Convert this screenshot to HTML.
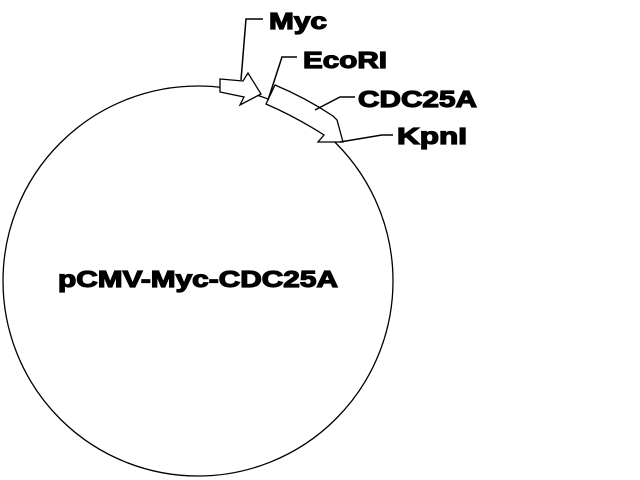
<!DOCTYPE html>
<html><head><style>html,body{margin:0;padding:0;background:#fff;}svg{display:block}</style></head>
<body>
<svg width="640" height="480" viewBox="0 0 640 480" xmlns="http://www.w3.org/2000/svg" font-family="Liberation Sans, Arial, sans-serif" font-weight="bold" font-size="23">
<rect width="640" height="480" fill="#fff"/>
<circle cx="198" cy="281" r="195" fill="none" stroke="#000" stroke-width="1.3"/>
<polygon points="220,79 243,81 248,73 261,94 240,105 244,97 220,92" fill="#fff" stroke="#000" stroke-width="1.3"/>
<path d="M275,85 Q306,98 333,116 L337,120 L343,142 L318,142 L324,135 Q296,117 266,104 Z" fill="#fff" stroke="#000" stroke-width="1.3"/>
<polyline points="241,80 246,19 263,19" fill="none" stroke="#000" stroke-width="1.5"/>
<polyline points="268,100 282,57 297,57" fill="none" stroke="#000" stroke-width="1.5"/>
<polyline points="315,110 340,97 355,97" fill="none" stroke="#000" stroke-width="1.5"/>
<polyline points="340,142 382,135 393,135" fill="none" stroke="#000" stroke-width="1.5"/>
<g stroke="#000" stroke-width="1.2">
<text x="269" y="29" textLength="58" lengthAdjust="spacingAndGlyphs">Myc</text>
<text x="303" y="68" textLength="84" lengthAdjust="spacingAndGlyphs">EcoRI</text>
<text x="358" y="107" textLength="119" lengthAdjust="spacingAndGlyphs">CDC25A</text>
<text x="397" y="144" textLength="70" lengthAdjust="spacingAndGlyphs">KpnI</text>
<text x="58" y="287" textLength="280" lengthAdjust="spacingAndGlyphs">pCMV-Myc-CDC25A</text>
</g>
</svg>
</body></html>
